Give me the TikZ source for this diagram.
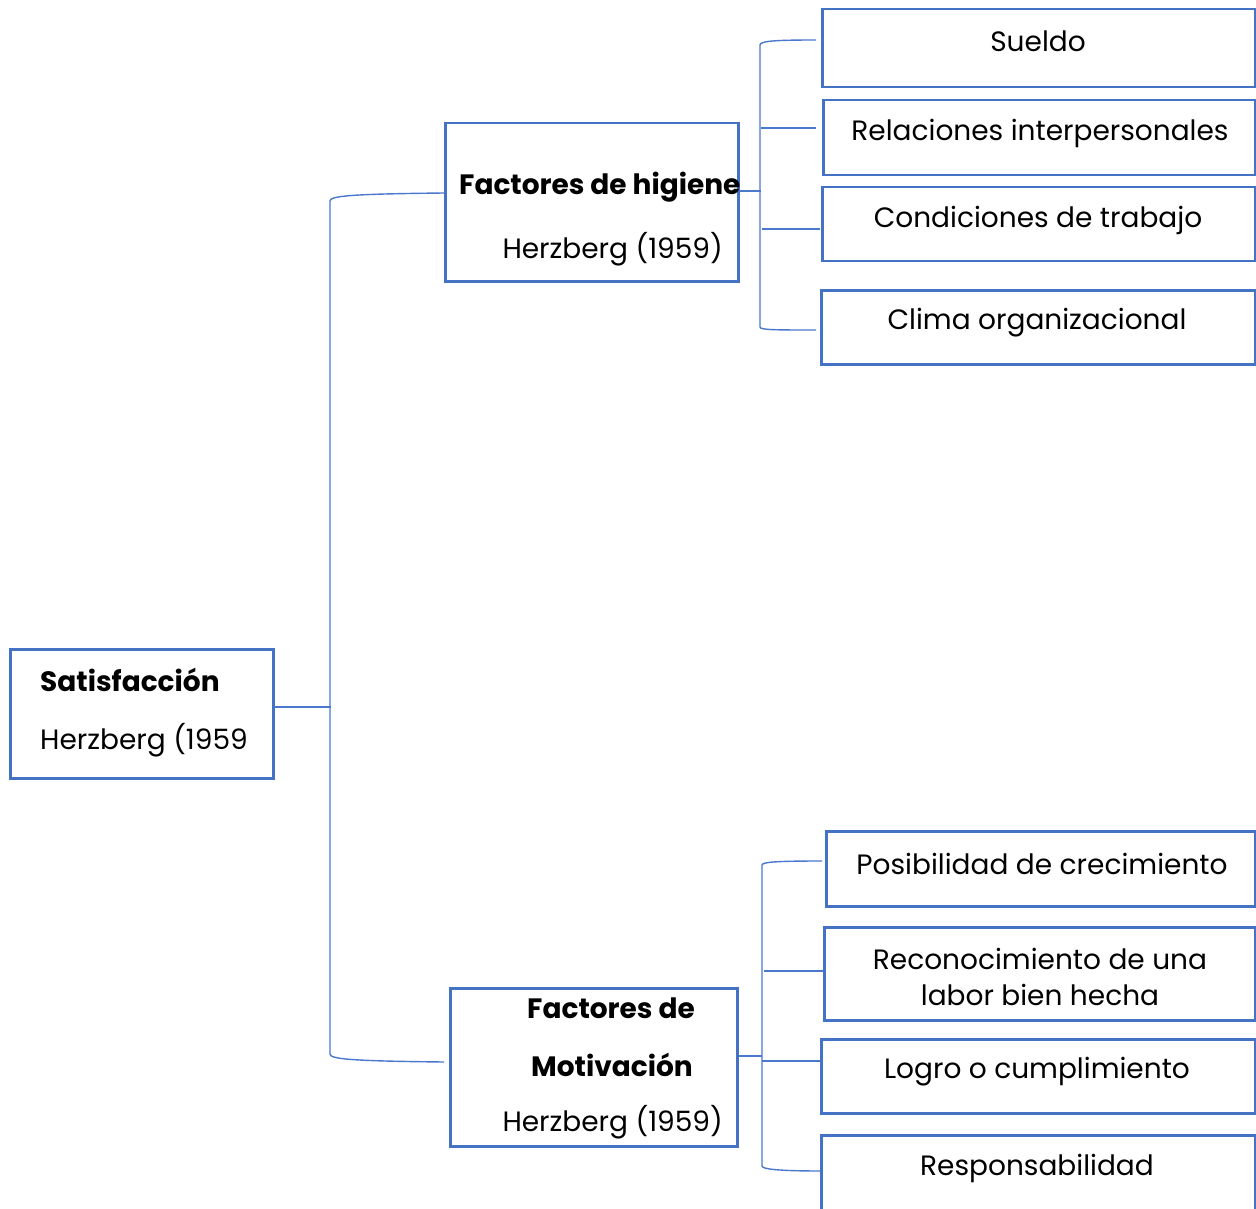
\documentclass[tikz,border=0pt]{standalone}
\usepackage{fontspec}
\setmainfont{Poppins}
\definecolor{bl}{HTML}{4472C4}
\definecolor{ln}{HTML}{4A78CC}
\tikzset{
  box/.style={draw=bl, line width=2.5pt, fill=white, inner sep=0pt, anchor=north west},
  lbl/.style={inner sep=0pt, font=\fontsize{28}{36}\selectfont, text=black, yshift=-3pt},
  blbl/.style={lbl, font=\fontsize{28}{36}\selectfont\bfseries},
  conn/.style={draw=ln, line width=1.4pt}
}
\begin{document}
\begin{tikzpicture}[x=1pt,y=-1pt]
\useasboundingbox (0,0) rectangle (1256,1209);
% boxes
\node[box, minimum width=263pt, minimum height=129pt] (sat) at (9,648) {};
\node[box, minimum width=293pt, minimum height=158pt] (hig) at (444,122) {};
\node[box, minimum width=287pt, minimum height=158pt] (mot) at (449,987) {};
\node[box, minimum width=433pt, minimum height=78pt] (b1) at (821,8) {};
\node[box, minimum width=432pt, minimum height=75pt] (b2) at (822,99) {};
\node[box, minimum width=433pt, minimum height=74pt] (b3) at (821,186) {};
\node[box, minimum width=434pt, minimum height=74pt] (b4) at (820,289) {};
\node[box, minimum width=429pt, minimum height=75pt] (b5) at (825,830) {};
\node[box, minimum width=431pt, minimum height=93pt] (b6) at (823,926) {};
\node[box, minimum width=434pt, minimum height=74pt] (b7) at (820,1038) {};
\node[box, minimum width=434pt, minimum height=76pt] (b8) at (820,1134) {};
% texts
\node[blbl, anchor=west] (tsat) at (40,677) {Satisfacción};
\node[lbl, anchor=west] (tsat2) at (40,737) {Herzberg (1959};
\node[blbl, anchor=west] (thig) at (459,184) {Factores de higiene};
\node[lbl, anchor=east] (thig2) at (723,246) {Herzberg (1959)};
\node[blbl] (tmot1) at (611,1005) {Factores de};
\node[blbl] (tmot2) at (612,1062) {Motivación};
\node[lbl, anchor=east] (tmot3) at (723,1119) {Herzberg (1959)};
\node[lbl] (t1) at (1038,38) {Sueldo};
\node[lbl] (t2) at (1040,130) {Relaciones interpersonales};
\node[lbl] (t3) at (1038,217) {Condiciones de trabajo};
\node[lbl] (t4) at (1037,320) {Clima organizacional};
\node[lbl] (t5) at (1042,861) {Posibilidad de crecimiento};
\node[lbl, align=center] (t6) at (1040,974) {Reconocimiento de una\\labor bien hecha};
\node[lbl] (t7) at (1037,1069) {Logro o cumplimiento};
\node[lbl] (t8) at (1037,1165) {Responsabilidad};
% junction coordinates
\coordinate (j0) at (331,707);
\coordinate (j0t) at (330,201);
\coordinate (j0b) at (330,1054);
\coordinate (jh) at (761,191);
\coordinate (jht) at (760,45);
\coordinate (jhb) at (760,327);
\coordinate (jm) at (762,1056);
\coordinate (jmt) at (762,865);
\coordinate (jmb) at (762,1166);
\coordinate (e1) at (816,40);
\coordinate (e2) at (816,128);
\coordinate (e3) at (820,229);
\coordinate (e4) at (816,330);
\coordinate (e5) at (822,861);
\coordinate (e6) at (823,971);
\coordinate (e7) at (822,1061);
\coordinate (e8) at (822,1171);
\coordinate (hw) at (444,193);
\coordinate (mw) at (444,1062);
% main bracket
\draw[conn] (sat.east |- j0) -- (j0);
\draw[conn] (hw) .. controls (350,194) and (330,196) .. (j0t) -- (j0b) .. controls (330,1059) and (350,1061) .. (mw);
% higiene bracket
\draw[conn] (hig.east |- jh) -- (jh);
\draw[conn] (e1) .. controls (775,40) and (760,41) .. (jht) -- (jhb) .. controls (760,330) and (775,330) .. (e4);
\draw[conn] (jh |- e2) -- (e2);
\draw[conn] (762,229) -- (e3);
% motivacion bracket
\draw[conn] (mot.east |- jm) -- (jm);
\draw[conn] (e5) .. controls (777,861) and (762,862) .. (jmt) -- (jmb) .. controls (762,1169) and (777,1171) .. (e8);
\draw[conn] (764,971) -- (e6);
\draw[conn] (jm |- e7) -- (e7);
\end{tikzpicture}
\end{document}
